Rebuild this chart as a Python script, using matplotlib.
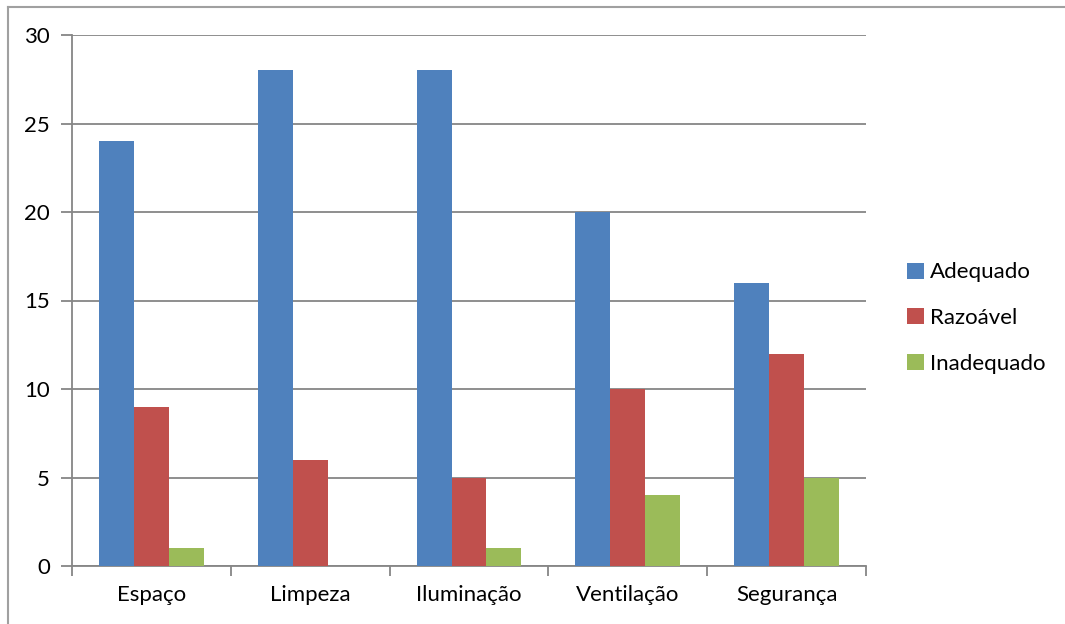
import matplotlib
matplotlib.use("Agg")
import matplotlib.pyplot as plt
import numpy as np
from matplotlib.patches import Patch
from matplotlib.lines import Line2D

categories = ["Espaço", "Limpeza", "Iluminação", "Ventilação", "Segurança"]
adequado = [24, 28, 28, 20, 16]
razoavel = [9, 6, 5, 10, 12]
inadequado = [1, 0, 1, 4, 5]
series_names = ["Adequado", "Razoável", "Inadequado"]
colors = ["#4F81BD", "#C0504D", "#9BBB59"]
yticks = [0, 5, 10, 15, 20, 25, 30]

plt.rcParams['font.family'] = ['Lato', 'DejaVu Sans']

fig = plt.figure(figsize=(10.65, 6.24), dpi=100)
ax = fig.add_axes([72/1065, 1-566/624, (866-72)/1065, (566-35)/624])

gray = "#868686"
x = np.arange(len(categories))
w = 0.22
for i, (vals, c) in enumerate(zip([adequado, razoavel, inadequado], colors)):
    ax.bar(x + (i-1)*w, vals, width=w, color=c, zorder=3)

ax.set_xlim(-0.5, len(categories)-0.5)
ax.set_ylim(0, 30)
ax.set_yticks(yticks)
ax.set_yticklabels([str(v) for v in yticks], fontsize=16)
ax.yaxis.grid(True, color=gray, linewidth=1.3, zorder=0)
ax.set_axisbelow(True)
for s in ["top", "right"]:
    ax.spines[s].set_visible(False)
for s in ["left", "bottom"]:
    ax.spines[s].set_color(gray)
    ax.spines[s].set_linewidth(1.3)
ax.tick_params(axis='y', length=8, width=1.3, color=gray, pad=8)
ax.set_xticks(x)
ax.set_xticklabels(categories, fontsize=16)
ax.tick_params(axis='x', length=0, pad=14)
ax.set_xticks(np.arange(len(categories)+1) - 0.5, minor=True)
ax.tick_params(axis='x', which='minor', length=7, width=1.3, color=gray)

handles = [Patch(facecolor=c, edgecolor='none') for c in colors]
fig.legend(handles, series_names, loc='center left', bbox_to_anchor=(887/1065, 1-318/624),
           frameon=False, fontsize=16, handlelength=0.75, handleheight=0.75,
           handletextpad=0.3, labelspacing=1.15)

# outer border (left and top)
fig.add_artist(Line2D([8/1065, 8/1065], [0, 1-7/624], transform=fig.transFigure, color="#A0A0A0", lw=1.5))
fig.add_artist(Line2D([8/1065, 1], [1-7/624, 1-7/624], transform=fig.transFigure, color="#A0A0A0", lw=1.5))

fig.savefig("out.png", dpi=100)
